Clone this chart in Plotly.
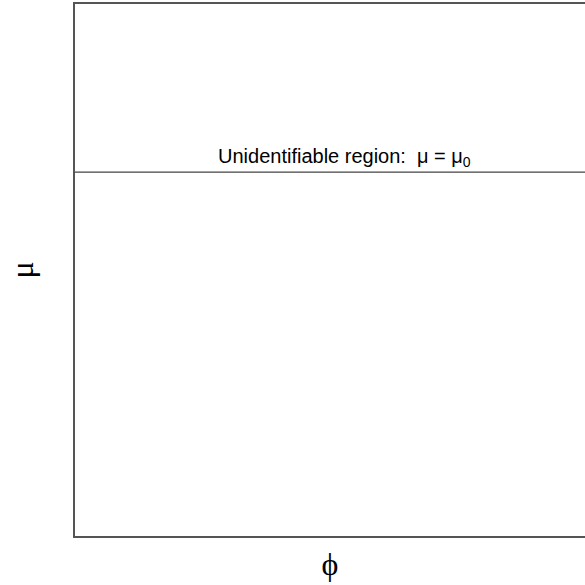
import plotly.graph_objects as go

# Data
phi_range = [0.0, 1.0]
mu_range = [0.0, 1.0]
mu0 = 0.684
label_phi = 0.528
region_label = "Unidentifiable region:&nbsp;&nbsp;μ = μ<sub>0</sub>"

fig = go.Figure()
fig.add_trace(go.Scatter(x=phi_range, y=[mu0, mu0], mode="lines",
                         line=dict(color="#444", width=1.2), showlegend=False,
                         hoverinfo="skip"))
fig.add_annotation(x=label_phi, y=mu0, text=region_label, showarrow=False,
                   yanchor="bottom", yshift=0,
                   font=dict(family="Liberation Sans, Arial", size=20, color="black"))

fig.update_layout(
    width=585, height=585,
    margin=dict(l=75, r=0, t=4, b=49),
    plot_bgcolor="white", paper_bgcolor="white",
    xaxis=dict(range=phi_range, showgrid=False, zeroline=False, showticklabels=False,
               ticks="", showline=True, mirror=True, linecolor="#555", linewidth=1.5,
               title=dict(text="ϕ", standoff=16,
                          font=dict(family="Liberation Serif, Times New Roman", size=32, color="black"))),
    yaxis=dict(range=mu_range, showgrid=False, zeroline=False, showticklabels=False,
               ticks="", showline=True, mirror=False, linecolor="#555", linewidth=1.5,
               title=dict(text="μ", standoff=30,
                          font=dict(family="Liberation Serif, Times New Roman", size=32, color="black"))),
)

fig.write_html("out.html")
